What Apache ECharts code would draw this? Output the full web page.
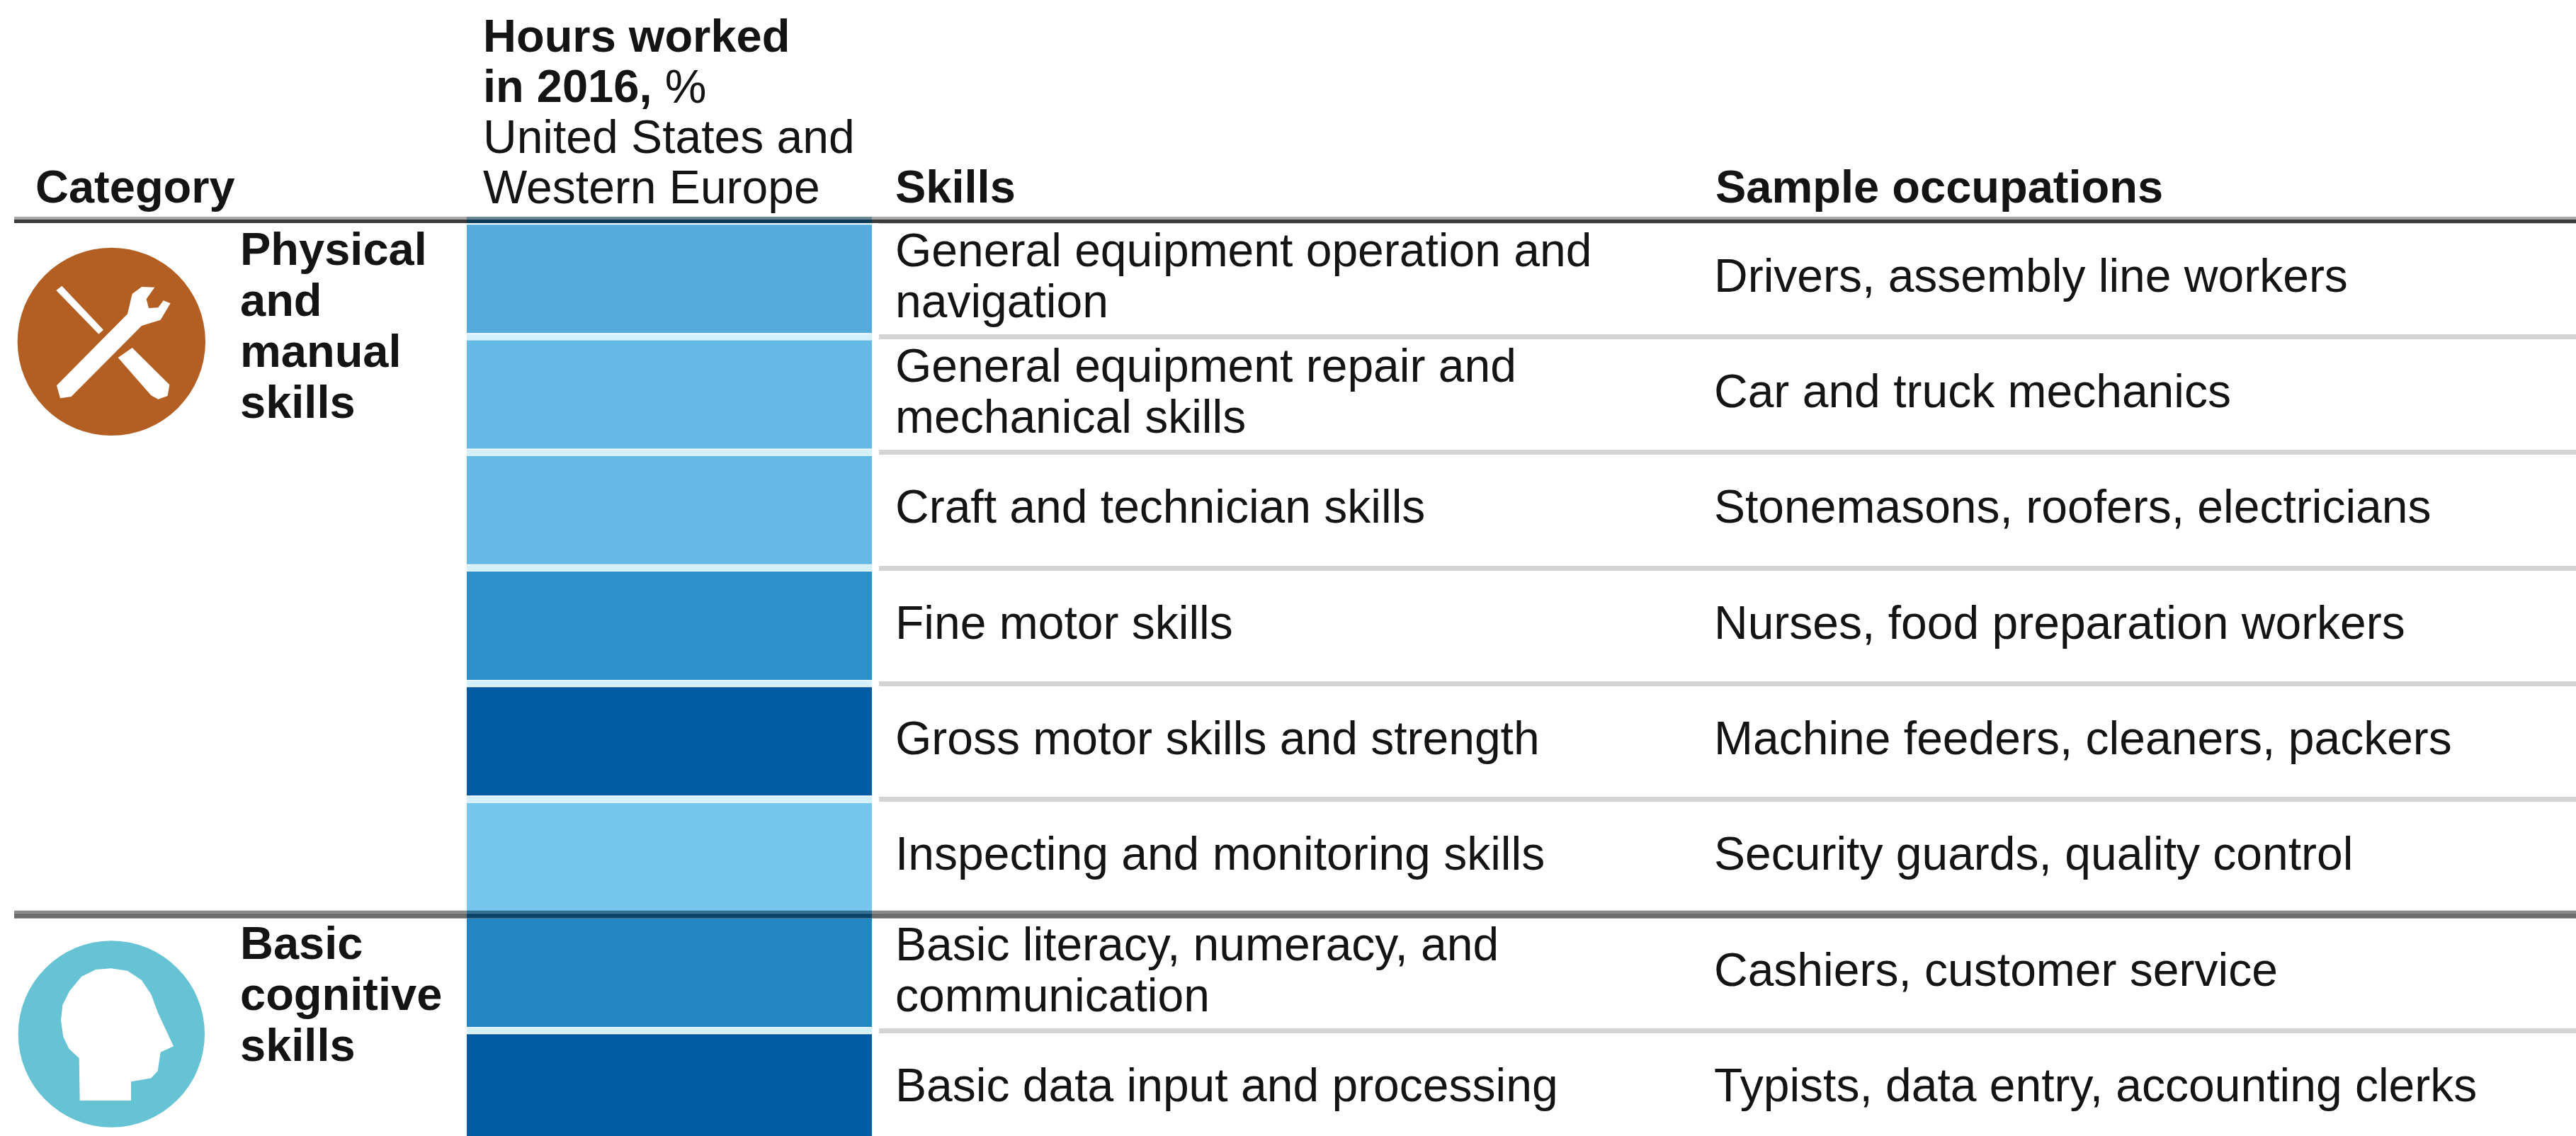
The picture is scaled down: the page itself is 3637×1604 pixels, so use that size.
<!DOCTYPE html>
<html>
<head>
<meta charset="utf-8">
<style>
html, body { margin: 0; padding: 0; background: #fff; }
#chart { width: 3637px; height: 1604px; }
</style>
</head>
<body>
<div id="chart"></div>
<script src="https://cdn.jsdelivr.net/npm/echarts@6/dist/echarts.min.js"></script>
<script>
const skills = [
    'General equipment operation and\nnavigation',
    'General equipment repair and\nmechanical skills',
    'Craft and technician skills',
    'Fine motor skills',
    'Gross motor skills and strength',
    'Inspecting and monitoring skills',
    'Basic literacy, numeracy, and\ncommunication',
    'Basic data input and processing'
];
const occupations = [
    'Drivers, assembly line workers',
    'Car and truck mechanics',
    'Stonemasons, roofers, electricians',
    'Nurses, food preparation workers',
    'Machine feeders, cleaners, packers',
    'Security guards, quality control',
    'Cashiers, customer service',
    'Typists, data entry, accounting clerks'
];
// every cell fills the column, the share of hours is only shown by the shade
const cellSpan = [1, 1, 1, 1, 1, 1, 1, 1];
const cellColors = ['#53acdb', '#64bae5', '#64bae5', '#2e90ca', '#005ba2', '#76c6ee', '#2286c2', '#005ba2'];

const font = '"Liberation Sans", Arial, sans-serif';
const textColor = '#141414';
const fontSize = 66;
const boldSize = 65;
const lineGap = 72;
const gridTop = 312;
const rowH = 163.3;

function rule(x, width, y, height, color) {
    return { type: 'rect', z: 100, shape: { x: x, y: y, width: width, height: height }, style: { fill: color } };
}
function ruleRow(row, thick, light, dark, cellLight, cellDark) {
    let y = gridTop + rowH * row;
    return [
        rule(20, 639, y - 6, 4, light), rule(20, 639, y - 2, thick, dark),
        rule(659, 572, y - 6, 4, cellLight), rule(659, 572, y - 2, thick, cellDark),
        rule(1231, 2406, y - 6, 4, light), rule(1231, 2406, y - 2, thick, dark)
    ];
}
function label(x, y, text) {
    return {
        type: 'text', x: x, y: y, z: 110,
        style: {
            text: text, fill: textColor, font: 'bold ' + boldSize + 'px ' + font,
            lineHeight: lineGap, textVerticalAlign: 'top'
        }
    };
}
// icons are traced in 3x units and scaled down
function icon(x, y, cy, r, color, shapes) {
    return {
        type: 'group', x: x, y: y, scaleX: 1 / 3, scaleY: 1 / 3, z: 50,
        children: [
            { type: 'circle', shape: { cx: 442, cy: cy, r: r }, style: { fill: color } }
        ].concat(shapes.map(p => ({ type: 'polygon', shape: { points: p }, style: { fill: '#fff' } })))
    };
}
const toolShapes = [
    [[208, 225], [232, 206], [408, 392], [388, 410]],
    [[470, 510], [530, 468], [688, 625], [680, 672], [640, 686], [610, 670]],
    [[210, 628], [510, 325], [530, 240], [570, 210], [625, 212], [590, 262], [600, 300], [640, 298], [662, 268], [692, 280], [650, 350], [570, 375], [272, 675], [225, 682]]
];
const headShapes = [
    [[440, 190], [375, 195], [315, 225], [265, 285], [235, 345], [228, 410], [238, 480], [262, 530], [305, 570], [308, 750], [525, 750], [525, 670], [610, 655], [638, 625], [650, 545], [705, 520], [640, 380], [610, 300], [570, 240], [510, 200]]
];

const graphics = [
    icon(10, 335, 442, 398, '#b35e22', toolShapes),
    icon(10, 1304, 468, 395, '#65c3d3', headShapes),
    label(50, 232, 'Category'),
    {
        type: 'text', x: 682, y: 20, z: 110,
        style: {
            text: '{b|Hours worked}\n{b|in 2016,} %\nUnited States and\nWestern Europe',
            fill: textColor, font: fontSize + 'px ' + font, lineHeight: 71, textVerticalAlign: 'top',
            rich: { b: { font: 'bold ' + boldSize + 'px ' + font, lineHeight: 71 } }
        }
    },
    label(1264, 232, 'Skills'),
    label(2422, 232, 'Sample occupations'),
    label(339, 320, 'Physical\nand\nmanual\nskills'),
    label(339, 1300, 'Basic\ncognitive\nskills')
].concat(
    ruleRow(0, 5, '#a8a8a8', '#3c3c3c', '#6a8794', '#0b3a55'),
    ruleRow(6, 7, '#888888', '#6c6c6c', '#2f6f8f', '#0a4468')
);

let chart = echarts.init(document.getElementById('chart'), null, { renderer: 'canvas' });
chart.setOption({
    animation: false,
    backgroundColor: '#ffffff',
    textStyle: { fontFamily: font },
    grid: [
        { left: 659, top: gridTop, width: 572, height: rowH * skills.length, outerBoundsMode: 'none' },
        { left: 1241, top: gridTop, width: 2396, height: rowH * skills.length, outerBoundsMode: 'none' }
    ],
    xAxis: [
        { gridIndex: 0, type: 'value', min: 0, max: 1, show: false },
        { gridIndex: 1, type: 'value', min: 0, max: 1, show: false }
    ],
    yAxis: [
        {
            gridIndex: 0, type: 'category', inverse: true, data: skills,
            axisLine: { show: false }, axisTick: { show: false }, axisLabel: { show: false },
            splitLine: { show: true, interval: 0, lineStyle: { color: '#d4f1fb', width: 8 } }
        },
        {
            gridIndex: 1, type: 'category', inverse: true, data: skills, position: 'left',
            axisLine: { show: false }, axisTick: { show: false },
            splitLine: { show: true, interval: 0, lineStyle: { color: '#d4d4d4', width: 7 } },
            axisLabel: {
                inside: true, interval: 0, margin: 23, align: 'left',
                color: textColor, fontFamily: font, fontSize: fontSize, lineHeight: lineGap
            }
        },
        {
            gridIndex: 1, type: 'category', inverse: true, data: occupations, position: 'left', offset: -1158,
            axisLine: { show: false }, axisTick: { show: false }, splitLine: { show: false },
            axisLabel: {
                inside: true, interval: 0, margin: 21, align: 'left',
                color: textColor, fontFamily: font, fontSize: fontSize, lineHeight: lineGap
            }
        }
    ],
    series: [
        {
            type: 'bar', xAxisIndex: 0, yAxisIndex: 0, data: cellSpan, barWidth: 153, silent: true,
            itemStyle: { color: params => cellColors[params.dataIndex] }
        }
    ],
    graphic: graphics
});
</script>
</body>
</html>
